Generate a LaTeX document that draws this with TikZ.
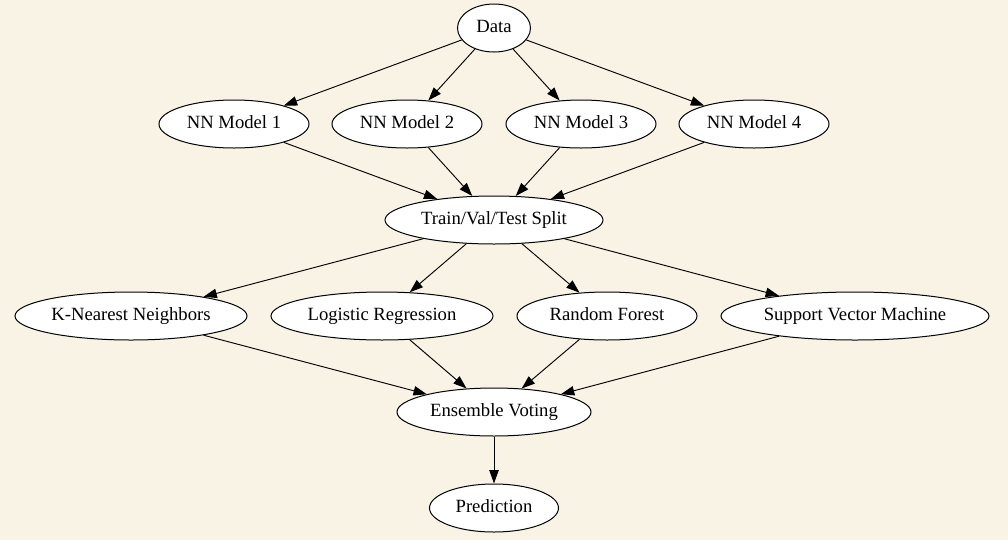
\documentclass[tikz,border=0pt]{standalone}
\usepackage{fontspec}
\setmainfont{Liberation Serif}
\usetikzlibrary{shapes.geometric,arrows.meta}
\definecolor{bg}{RGB}{248,243,228}
\begin{document}
\begin{tikzpicture}[x=0.75pt,y=-0.75pt,
  nd/.style={ellipse,draw,fill=white,line width=0.75pt,inner sep=0pt,
    minimum height=36pt,minimum width={#1*0.75pt},
    text height=9.6pt,text depth=3.2pt,
    font=\fontsize{14}{16}\selectfont},
  edge/.style={draw,line width=0.7pt,-{Triangle[length=10pt,width=7pt]}}]
\useasboundingbox[fill=bg] (0,0) rectangle (1008,540);
\node[nd=73]  (data) at (494,28)  {Data};
\node[nd=150] (nn1)  at (234,124) {NN Model 1};
\node[nd=150] (nn2)  at (407,124) {NN Model 2};
\node[nd=150] (nn3)  at (581,124) {NN Model 3};
\node[nd=150] (nn4)  at (754,124) {NN Model 4};
\node[nd=218] (tvt)  at (494,220) {Train/Val/Test Split};
\node[nd=232] (knn)  at (131,316) {K-Nearest Neighbors};
\node[nd=222] (lr)   at (382,316) {Logistic Regression};
\node[nd=180] (rf)   at (607,316) {Random Forest};
\node[nd=268] (svm)  at (855,316) {Support Vector Machine};
\node[nd=194] (ev)   at (494,412) {Ensemble Voting};
\node[nd=129] (pred) at (494,508) {Prediction};
\foreach \n in {nn1,nn2,nn3,nn4}{
  \draw[edge] (data) -- (\n);
  \draw[edge] (\n) -- (tvt);
}
\foreach \n in {knn,lr,rf,svm}{
  \draw[edge] (tvt) -- (\n);
  \draw[edge] (\n) -- (ev);
}
\draw[edge] (ev) -- (pred);
\end{tikzpicture}
\end{document}
